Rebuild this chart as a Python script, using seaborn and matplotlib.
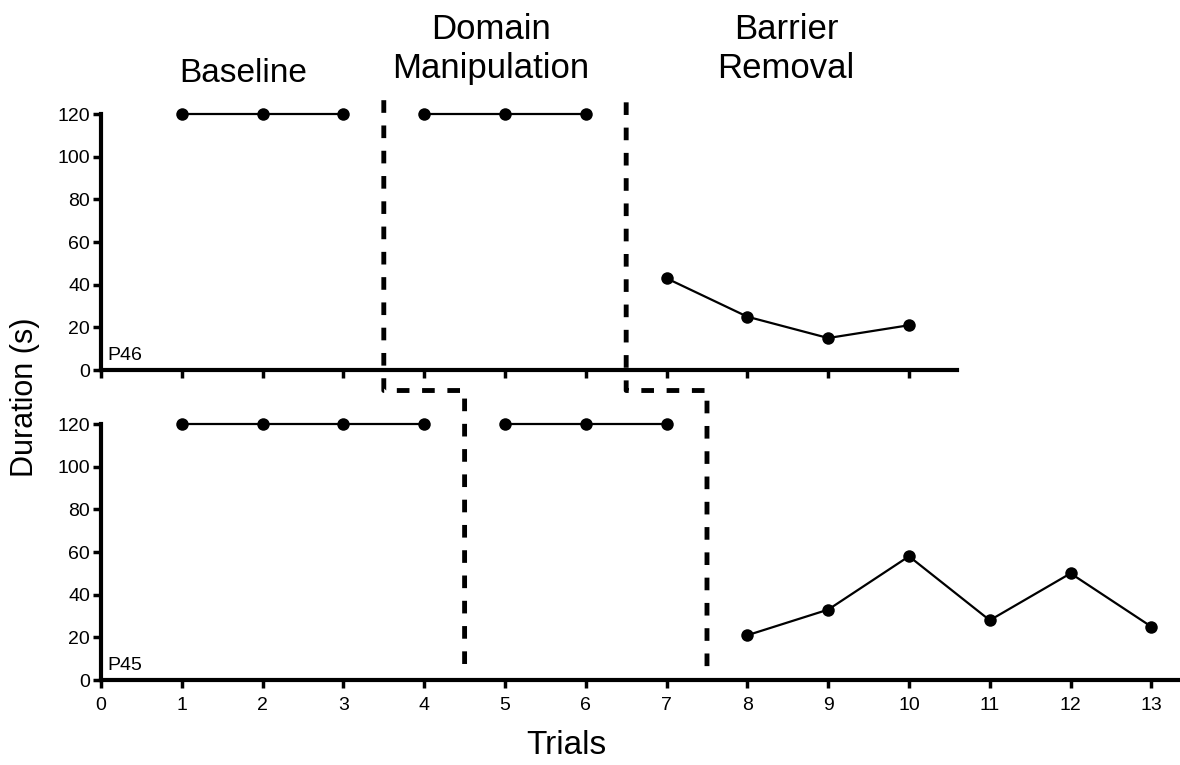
import numpy as np
import pandas as pd
import seaborn as sns
from matplotlib import pyplot as plt
from matplotlib.lines import Line2D

# P46 (top panel)
p46_trials = [1, 2, 3, 4, 5, 6, 7, 8, 9, 10]
p46_duration = [120, 120, 120, 120, 120, 120, 43, 25, 15, 21]
p46_phase = ['Baseline'] * 3 + ['Domain'] * 3 + ['Barrier'] * 4

# P45 (bottom panel)
p45_trials = [1, 2, 3, 4, 5, 6, 7, 8, 9, 10, 11, 12, 13]
p45_duration = [120, 120, 120, 120, 120, 120, 120, 21, 33, 58, 28, 50, 25]
p45_phase = ['Baseline'] * 4 + ['Domain'] * 3 + ['Barrier'] * 6

# phase change lines (x positions: top panel -> bottom panel)
p46_changes = [3.5, 6.5]
p45_changes = [4.5, 7.5]

phase_titles = ['Baseline', 'Domain\nManipulation', 'Barrier\nRemoval']
y_ticks = [0, 20, 40, 60, 80, 100, 120]

sns.set_style('ticks')
plt.rcParams['font.family'] = ['Liberation Sans', 'DejaVu Sans']
plt.rcParams['text.color'] = 'black'

fig = plt.figure(figsize=(11.8, 7.65), dpi=100)
ax_top = fig.add_axes([0.0856, 0.5163, 0.7258, 0.3346])
ax_bot = fig.add_axes([0.0856, 0.1111, 0.9141, 0.3346])

df46 = pd.DataFrame({'trial': p46_trials, 'duration': p46_duration, 'phase': p46_phase})
df45 = pd.DataFrame({'trial': p45_trials, 'duration': p45_duration, 'phase': p45_phase})

for ax, df, name, xmax in [(ax_top, df46, 'P46', 10.6), (ax_bot, df45, 'P45', 13.35)]:
    sns.lineplot(data=df, x='trial', y='duration', units='phase', estimator=None,
                 color='black', marker='o', markersize=9, markeredgewidth=0,
                 linewidth=1.6, ax=ax, clip_on=False)
    ax.set_xlim(0, xmax)
    ax.set_ylim(0, 120)
    ax.set_yticks(y_ticks)
    ax.set_xticks(range(0, int(xmax) + 1))
    ax.set_xlabel('')
    ax.set_ylabel('')
    sns.despine(ax=ax)
    for side in ['left', 'bottom']:
        ax.spines[side].set_linewidth(3)
        ax.spines[side].set_color('black')
    ax.tick_params(axis='both', width=2.5, length=6, color='black',
                   labelsize=14, labelcolor='black')
    ax.tick_params(axis='y', pad=2)
    ax.tick_params(axis='x', pad=6)
    ax.text(0.08, 3, name, fontsize=14, ha='left', va='bottom', color='black')

ax_top.tick_params(axis='x', labelbottom=False)

# dashed phase-change lines running across both panels
to_fig = fig.transFigure.inverted()


def fig_pt(ax, x, y):
    return to_fig.transform(ax.transData.transform((x, y)))


for x_top, x_bot, y_start in [(p46_changes[0], p45_changes[0], 126.5),
                              (p46_changes[1], p45_changes[1], 125.5)]:
    a = fig_pt(ax_top, x_top, y_start)
    b = fig_pt(ax_top, x_top, -9.6)
    c = fig_pt(ax_top, x_bot, -9.6)
    d = fig_pt(ax_bot, x_bot, 3.5)
    xs = [a[0], b[0], c[0], d[0]]
    ys = [a[1], b[1], c[1], d[1]]
    fig.add_artist(Line2D(xs, ys, transform=fig.transFigure, color='black',
                          linewidth=3.5, linestyle=(0, (2.6, 2.6))))

# phase titles
fig.text(243 / 1180, 1 - 73 / 765, phase_titles[0], fontsize=24, ha='center', va='center')
fig.text(491 / 1180, 1 - 49 / 765, phase_titles[1], fontsize=25, ha='center', va='center',
         linespacing=1.2)
fig.text(786 / 1180, 1 - 49 / 765, phase_titles[2], fontsize=25, ha='center', va='center',
         linespacing=1.2)

fig.text(25 / 1180, 1 - 397 / 765, 'Duration (s)', fontsize=22, rotation=90,
         ha='center', va='center')
fig.text(566 / 1180, 1 - 745 / 765, 'Trials', fontsize=24, ha='center', va='center')

fig.savefig('out.png', dpi=100)
